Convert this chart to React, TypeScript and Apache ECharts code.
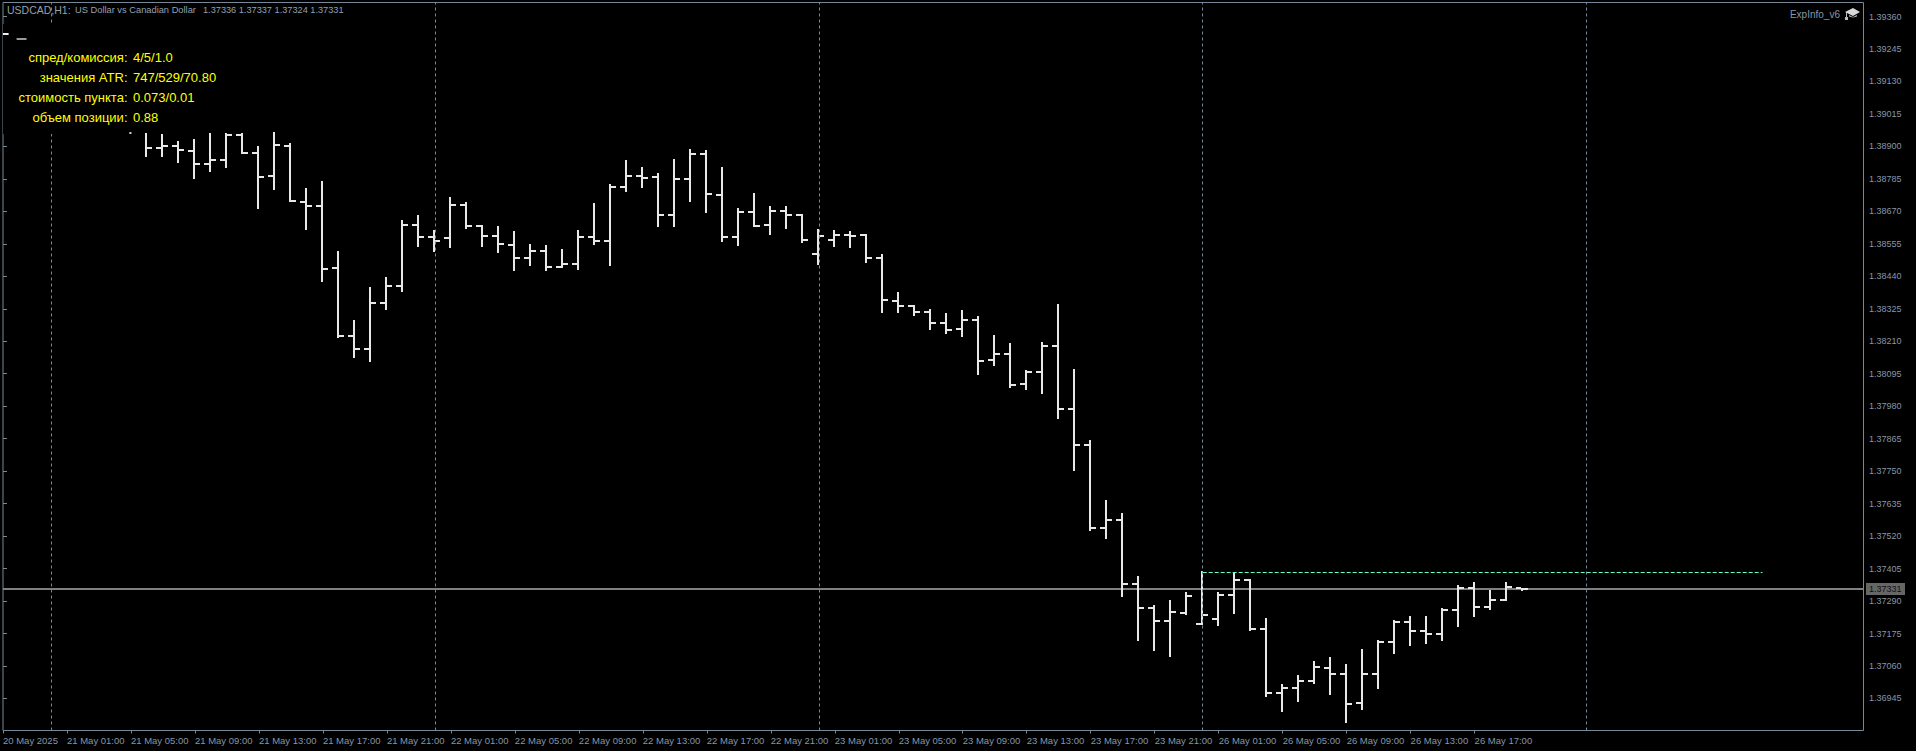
import React, { useEffect, useRef } from "react";
import * as echarts from "echarts";

const opens = [138894,138901,138884,138838,138852,138940,138877,138795,138901,138703,138689,138469,138229,138183,138346,138406,138622,138579,138576,138693,138618,138583,138551,138505,138530,138473,138484,138579,138565,138756,138796,138792,138656,138785,138873,138729,138579,138668,138622,138671,138657,138519,138569,138586,138586,138505,138353,138335,138314,138275,138253,138285,138144,138165,138059,138101,138193,137970,137843,137549,137577,137350,137265,137219,137248,137210,137227,137311,137365,137191,136964,136982,137006,137053,137032,136929,137032,137146,137215,137184,137173,137258,137336,137269,137294,137336];
const highs = [138944,138918,138925,138946,138946,138946,138900,138950,138911,138752,138776,138528,138284,138401,138436,138638,138656,138603,138720,138702,138620,138617,138599,138553,138550,138536,138603,138698,138766,138851,138826,138805,138854,138890,138886,138826,138681,138734,138688,138688,138662,138606,138603,138599,138590,138518,138383,138337,138323,138309,138320,138298,138231,138203,138107,138206,138341,138111,137859,137647,137601,137378,137275,137293,137321,137395,137321,137392,137367,137229,136995,137027,137077,137091,137066,137119,137151,137222,137236,137236,137264,137347,137356,137329,137356,137337];
const lows = [138864,138842,138786,138811,138825,138873,138680,138747,138704,138605,138421,138223,138152,138138,138322,138386,138545,138527,138541,138609,138545,138524,138460,138478,138460,138468,138464,138552,138478,138740,138754,138616,138616,138704,138665,138563,138549,138616,138587,138609,138559,138481,138545,138541,138488,138311,138311,138301,138251,138237,138226,138092,138124,138046,138039,138024,137936,137752,137539,137511,137306,137150,137114,137093,137242,137206,137203,137245,137185,136951,136897,136933,136996,136957,136859,136904,136979,137103,137131,137138,137149,137198,137234,137258,137290,137324];
const closes = [138901,138887,138838,138852,138940,138877,138792,138905,138707,138689,138466,138229,138183,138346,138406,138622,138579,138565,138693,138618,138583,138554,138505,138530,138473,138484,138579,138565,138756,138796,138788,138656,138785,138873,138733,138579,138668,138619,138671,138657,138569,138583,138586,138583,138505,138356,138335,138314,138275,138250,138285,138140,138165,138055,138101,138193,137970,137843,137549,137577,137350,137265,137219,137251,137309,137242,137311,137365,137191,136963,136982,137007,137057,137032,136926,137032,137146,137215,137184,137173,137258,137336,137269,137294,137340,137331];
const firstBarIndex = 10;
// first visible bar: its open is hidden behind the info panel
const bar9 = { high: 138946, low: 138864, close: 138894 };
const fragments = [
  [0, 0.35, 139299.8, "#f0f0f0"],
  [0.85, 1.47, 139281.4, "#9a9a9a"],
  [7.9, 8.03, 138945.7, "#d0d0d0"],
];
const dayGrid = [3, 27, 51, 75, 99];
const priceTicks = ["1.39360","1.39245","1.39130","1.39015","1.38900","1.38785","1.38670","1.38555","1.38440","1.38325","1.38210","1.38095","1.37980","1.37865","1.37750","1.37635","1.37520","1.37405","1.37290","1.37175","1.37060","1.36945"];
const timeLabels = ["20 May 2025","21 May 01:00","21 May 05:00","21 May 09:00","21 May 13:00","21 May 17:00","21 May 21:00","22 May 01:00","22 May 05:00","22 May 09:00","22 May 13:00","22 May 17:00","22 May 21:00","23 May 01:00","23 May 05:00","23 May 09:00","23 May 13:00","23 May 17:00","23 May 21:00","26 May 01:00","26 May 05:00","26 May 09:00","26 May 13:00","26 May 17:00"];
const lastPrice = 1.37331;
const levelLine = { price: 1.37391, from: 75, to: 110 };
const infoLabels = ["спред/комиссия:", "значения ATR:", "стоимость пункта:", "объем позиции:"];
const infoValues = ["4/5/1.0", "747/529/70.80", "0.073/0.01", "0.88"];
const headerSymbol = "USDCAD,H1:";
const headerName = "US Dollar vs Canadian Dollar";
const headerPrices = "1.37336 1.37337 1.37324 1.37331";

const AXIS = "#778899";
const TEXT = "#8796a8";
const BAR = "#e8e8e8";
const FONT = "'Liberation Sans', sans-serif";

const W = 1916, H = 751;
const LEFT = 2.5, RIGHT = 1863.5, TOP = 2.5, BOTTOM = 730.5;
const PX_PER_PRICE = 28240;
const yMax = 1.3936 + (16.5 - TOP) / PX_PER_PRICE;
const yMin = 1.3936 - (BOTTOM - 16.5) / PX_PER_PRICE;
const xMax = (RIGHT - LEFT) / 16;
const pr = (v: number | null) => (v == null ? null : v / 100000);

const barData = [
  [9, null, pr(bar9.high), pr(bar9.low), pr(bar9.close)],
  ...opens.map((o, i) => [firstBarIndex + i, pr(o), pr(highs[i]), pr(lows[i]), pr(closes[i])]),
];

const rect = (x: number, y: number, w: number, h: number, fill: string) => ({
  type: "rect",
  shape: { x, y, width: w, height: h },
  style: { fill },
  silent: true,
});

function renderBar(_: any, api: any) {
  const idx = api.value(0);
  const cx = Math.floor(api.coord([idx, 1.38])[0]);
  const yOf = (v: number) => Math.round(api.coord([idx, v])[1]);
  const o = api.value(1), h = api.value(2), l = api.value(3), c = api.value(4);
  const children: any[] = [];
  children.push(rect(cx - 1, yOf(h), 2, yOf(l) - yOf(h), BAR));
  if (!isNaN(o) && o != null) children.push(rect(cx - 6, yOf(o) - 1, 5, 2, BAR));
  children.push(rect(cx + 1, yOf(c) - 1, 5, 2, BAR));
  return { type: "group", children };
}

function renderFragment(_: any, api: any) {
  const a = api.coord([api.value(0), api.value(2)]);
  const b = api.coord([api.value(1), api.value(2)]);
  return rect(a[0], Math.round(a[1]) - 1, Math.max(b[0] - a[0], 1), 2, fragments[_.dataIndex][3] as string);
}

function renderPriceLine(params: any, api: any) {
  const y = Math.floor(api.coord([0, api.value(0)])[1]) - 1;
  return rect(params.coordSys.x, y, params.coordSys.width, 2, "#808080");
}

function App() {
  const ref = useRef<HTMLDivElement>(null);
  useEffect(() => {
    const chart = echarts.init(ref.current!, undefined, { renderer: "svg" });
    const textStyle = { fontFamily: FONT, fontSize: 13, fill: "#ffff00" };
    const infoGraphics: any[] = [];
    infoLabels.forEach((t, i) => {
      infoGraphics.push({ type: "text", x: 127.5, y: 57 + i * 20, z: 120, style: { ...textStyle, text: t, align: "right", verticalAlign: "middle" } });
      infoGraphics.push({ type: "text", x: 133, y: 57 + i * 20, z: 120, style: { ...textStyle, text: infoValues[i], align: "left", verticalAlign: "middle" } });
    });
    const headerStyle = { fontFamily: FONT, fill: "#93a1b1", verticalAlign: "middle", align: "left" };
    chart.setOption({
      animation: false,
      backgroundColor: "#000000",
      grid: { left: LEFT, top: TOP, width: RIGHT - LEFT, height: BOTTOM - TOP, show: true, borderColor: AXIS, borderWidth: 1, backgroundColor: "transparent" },
      xAxis: {
        type: "value", min: 0, max: xMax, splitLine: { show: false },
        axisLine: { show: false },
        axisTick: { show: true, length: 3, lineStyle: { color: AXIS }, customValues: timeLabels.map((_, i) => i * 4) },
        axisLabel: {
          show: true, customValues: timeLabels.map((_, i) => i * 4), color: TEXT, fontFamily: FONT, fontSize: 9.5, margin: 5,
          align: "left", hideOverlap: false, showMinLabel: true, showMaxLabel: true,
          formatter: (v: number) => timeLabels[Math.round(v / 4)] ?? "",
        },
      },
      yAxis: {
        type: "value", min: yMin, max: yMax, position: "right", splitLine: { show: false },
        axisLine: { show: false },
        axisTick: { show: true, length: 4, lineStyle: { color: AXIS }, customValues: priceTicks.map(Number) },
        axisLabel: {
          show: true, customValues: priceTicks.map(Number), color: TEXT, fontFamily: FONT, fontSize: 9, margin: 5.5,
          align: "left", formatter: (v: number) => v.toFixed(5),
        },
      },
      series: [
        {
          type: "line", data: [], z: 1, silent: true,
          markLine: {
            silent: true, symbol: "none", animation: false, label: { show: false },
            lineStyle: { color: AXIS, type: [3, 3], width: 1 },
            data: dayGrid.map((x) => ({ xAxis: x })),
          },
        },
        {
          type: "line", data: [], z: 2, silent: true,
          markLine: {
            silent: true, symbol: "none", animation: false, label: { show: false },
            lineStyle: { color: "#66ffcc", type: [4, 2], width: 1 },
            data: [[{ coord: [levelLine.from, levelLine.price] }, { coord: [levelLine.to, levelLine.price] }]],
          },
        },
        { type: "custom", coordinateSystem: "cartesian2d", z: 3, silent: true, clip: false, renderItem: renderPriceLine, data: [[lastPrice]], encode: { y: 0 } },
        { type: "custom", coordinateSystem: "cartesian2d", z: 4, silent: true, renderItem: renderBar, data: barData, encode: { x: 0, y: [2, 3] } },
        { type: "custom", coordinateSystem: "cartesian2d", z: 150, silent: true, renderItem: renderFragment, data: fragments.map((f) => [f[0], f[1], (f[2] as number) / 100000]), encode: { x: [0, 1], y: 2 } },
      ],
      graphic: [
        { type: "rect", z: 100, shape: { x: 3, y: 24, width: 141, height: 110 }, style: { fill: "#000000" }, silent: true },
        { type: "text", x: 7, y: 10, z: 120, style: { ...headerStyle, text: headerSymbol, fontSize: 10.5 }, silent: true },
        { type: "text", x: 75, y: 10, z: 120, style: { ...headerStyle, text: headerName, fontSize: 9.3 }, silent: true },
        { type: "text", x: 203, y: 10, z: 120, style: { ...headerStyle, text: headerPrices, fontSize: 9.2 }, silent: true },
        ...infoGraphics,
        { type: "text", x: 1840, y: 14, z: 120, style: { text: "ExpInfo_v6", fontFamily: FONT, fontSize: 10, fill: TEXT, verticalAlign: "middle", align: "right" }, silent: true },
        { type: "polygon", z: 120, shape: { points: [[1845, 12], [1853, 8], [1860, 12], [1853, 16]] }, style: { fill: "#d8d8d8" }, silent: true },
        { type: "polygon", z: 120, shape: { points: [[1849, 15], [1853, 17], [1857, 15], [1857, 16.5], [1853, 17.5], [1849, 16.5]] }, style: { fill: "#bbbbbb" }, silent: true },
        { type: "rect", z: 120, shape: { x: 1846, y: 12, width: 1, height: 6 }, style: { fill: "#bbbbbb" }, silent: true },
        { type: "rect", z: 120, shape: { x: 1845, y: 17, width: 3, height: 3 }, style: { fill: "#bbbbbb" }, silent: true },
        { type: "rect", z: 120, shape: { x: 1866, y: 583, width: 39, height: 12 }, style: { fill: "#666666" }, silent: true },
        { type: "text", x: 1869, y: 589, z: 121, style: { text: lastPrice.toFixed(5), fontFamily: FONT, fontSize: 9, fill: "#111111", verticalAlign: "middle", align: "left" }, silent: true },
      ],
    });
    return () => chart.dispose();
  }, []);
  return <div ref={ref} style={{ position: "fixed", left: 0, top: 0, width: W, height: H }} />;
}

export default App;
